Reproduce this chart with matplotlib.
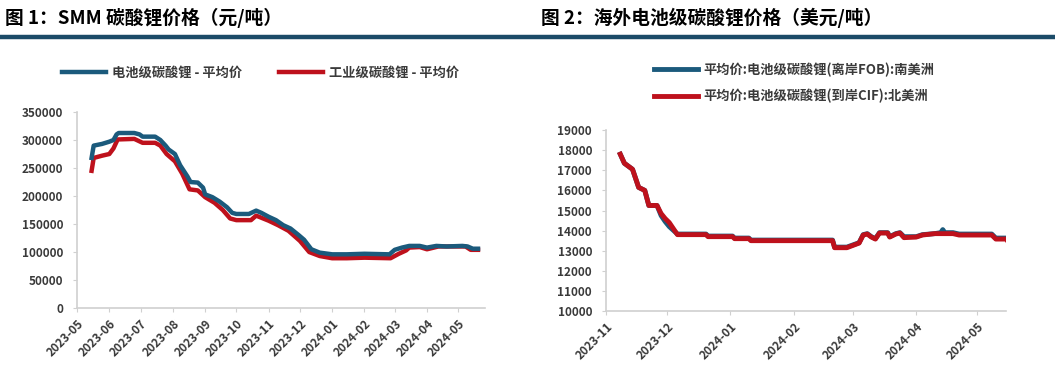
import matplotlib
matplotlib.use('Agg')
import matplotlib.pyplot as plt
import matplotlib.dates as mdates
from matplotlib.lines import Line2D
import numpy as np
import pandas as pd

plt.rcParams['font.family'] = ['Noto Sans CJK SC', 'DejaVu Sans']

# ---- chart 1: SMM lithium carbonate (CNY/t) ----
batt_dates = ["2023-05-15", "2023-05-17", "2023-05-25", "2023-06-01", "2023-06-05", "2023-06-08",
              "2023-06-10", "2023-06-25", "2023-06-30", "2023-07-03", "2023-07-15", "2023-07-20",
              "2023-07-25", "2023-07-28", "2023-08-03", "2023-08-08", "2023-08-15", "2023-08-18",
              "2023-08-25", "2023-08-30", "2023-09-01", "2023-09-08", "2023-09-15", "2023-09-22",
              "2023-09-27", "2023-10-01", "2023-10-13", "2023-10-20", "2023-10-25", "2023-11-01",
              "2023-11-08", "2023-11-15", "2023-11-22", "2023-11-30", "2023-12-05", "2023-12-12",
              "2023-12-20", "2024-01-01", "2024-01-15", "2024-02-01", "2024-02-25", "2024-03-01",
              "2024-03-08", "2024-03-15", "2024-03-25", "2024-04-01", "2024-04-10", "2024-04-20",
              "2024-05-05", "2024-05-10", "2024-05-15", "2024-05-20"]
batt_vals = [268000, 290000, 293000, 297000, 300000, 310000,
             312500, 312500, 310000, 306000, 306000, 300000,
             290000, 283000, 275000, 255000, 235000, 225000,
             224000, 215000, 203000, 198000, 190000, 180000,
             170000, 168000, 168000, 174000, 170000, 163000,
             157000, 148000, 142000, 130000, 122000, 105000,
             99000, 96000, 96000, 97000, 96000, 104000,
             108000, 111000, 111000, 108000, 111000, 110000,
             111000, 110000, 106000, 106000]

ind_dates = ["2023-05-15", "2023-05-17", "2023-05-25", "2023-06-01", "2023-06-05", "2023-06-09",
             "2023-06-25", "2023-07-03", "2023-07-15", "2023-07-20", "2023-07-26", "2023-08-03",
             "2023-08-10", "2023-08-17", "2023-08-25", "2023-09-01", "2023-09-10", "2023-09-18",
             "2023-09-25", "2023-10-01", "2023-10-15", "2023-10-20", "2023-11-01", "2023-11-10",
             "2023-11-20", "2023-12-01", "2023-12-10", "2023-12-20", "2024-01-01", "2024-01-15",
             "2024-02-01", "2024-02-26", "2024-03-05", "2024-03-12", "2024-03-15", "2024-03-25",
             "2024-04-01", "2024-04-12", "2024-05-08", "2024-05-13", "2024-05-20"]
ind_vals = [245000, 268000, 272000, 275000, 285000, 301000,
            302000, 295000, 295000, 290000, 275000, 262000,
            240000, 212000, 210000, 198000, 188000, 175000,
            160000, 157000, 157000, 165000, 156000, 148000,
            138000, 120000, 100000, 93000, 89000, 89000,
            90000, 89000, 97000, 103000, 108000, 109000,
            105000, 110000, 110000, 104000, 104000]

# ---- chart 2: overseas battery-grade lithium carbonate (USD/t) ----
fob_dates = ["2023-11-08", "2023-11-10", "2023-11-12", "2023-11-14", "2023-11-17", "2023-11-20",
             "2023-11-22", "2023-11-26", "2023-11-28", "2023-11-30", "2023-12-02", "2023-12-06",
             "2023-12-20", "2023-12-21", "2024-01-02", "2024-01-03", "2024-01-10", "2024-01-11",
             "2024-02-20", "2024-02-21", "2024-02-27", "2024-03-04", "2024-03-06", "2024-03-08",
             "2024-03-10", "2024-03-12", "2024-03-14", "2024-03-18", "2024-03-19", "2024-03-22",
             "2024-03-24", "2024-03-26", "2024-04-01", "2024-04-04", "2024-04-10", "2024-04-13",
             "2024-04-14", "2024-04-15", "2024-04-19", "2024-04-22", "2024-05-08", "2024-05-10",
             "2024-05-16"]
fob_vals = [17800, 17350, 17200, 17050, 16150, 16000,
            15250, 15250, 14750, 14450, 14200, 13830,
            13830, 13730, 13730, 13630, 13630, 13530,
            13530, 13180, 13180, 13400, 13800, 13850,
            13700, 13600, 13900, 13900, 13700, 13850,
            13900, 13700, 13700, 13800, 13850, 13900,
            14050, 13900, 13900, 13830, 13830, 13630,
            13630]

cif_dates = ["2023-11-08", "2023-11-10", "2023-11-12", "2023-11-14", "2023-11-17", "2023-11-20",
             "2023-11-22", "2023-11-26", "2023-11-28", "2023-11-30", "2023-12-02", "2023-12-06",
             "2023-12-20", "2023-12-21", "2024-01-02", "2024-01-03", "2024-01-10", "2024-01-11",
             "2024-02-20", "2024-02-21", "2024-02-27", "2024-03-04", "2024-03-06", "2024-03-08",
             "2024-03-10", "2024-03-12", "2024-03-14", "2024-03-18", "2024-03-19", "2024-03-22",
             "2024-03-24", "2024-03-26", "2024-04-01", "2024-04-04", "2024-04-10", "2024-04-19",
             "2024-04-22", "2024-05-08", "2024-05-10", "2024-05-15", "2024-05-16"]
cif_vals = [17800, 17350, 17200, 17050, 16150, 16000,
            15250, 15250, 14850, 14600, 14400, 13800,
            13800, 13700, 13700, 13600, 13600, 13500,
            13500, 13150, 13150, 13380, 13780, 13830,
            13680, 13580, 13880, 13880, 13680, 13830,
            13880, 13650, 13680, 13780, 13850, 13850,
            13780, 13780, 13580, 13580, 13450]

blue = '#1B5A7C'
red = '#BE111C'
txt = '#3A3A3A'

fig = plt.figure(figsize=(10.55, 3.69), dpi=100)

# header titles and rule
fig.text(0.005, 0.952, '图 1：SMM 碳酸锂价格（元/吨）', fontsize=13.5, fontweight='bold',
         color='black', va='center', ha='left')
fig.text(0.513, 0.952, '图 2：海外电池级碳酸锂价格（美元/吨）', fontsize=13.5, fontweight='bold',
         color='black', va='center', ha='left')
fig.add_artist(Line2D([0, 1], [0.899, 0.899], transform=fig.transFigure,
                      color='#1B4B68', linewidth=3.2))


def style_axes(ax):
    for s in ['top', 'right']:
        ax.spines[s].set_visible(False)
    for s in ['left', 'bottom']:
        ax.spines[s].set_color('#D0D0D0')
        ax.spines[s].set_linewidth(1.2)
    ax.tick_params(axis='both', colors='#D0D0D0', labelcolor=txt, labelsize=8.5, length=3)
    ax.tick_params(axis='y', pad=7)
    ax.xaxis.set_major_locator(mdates.MonthLocator())
    ax.xaxis.set_major_formatter(mdates.DateFormatter('%Y-%m'))
    for lab in ax.get_xticklabels() + ax.get_yticklabels():
        lab.set_fontweight('bold')
    for lab in ax.get_xticklabels():
        lab.set_rotation(45)
        lab.set_ha('right')
        lab.set_rotation_mode('anchor')


# left chart
ax1 = fig.add_axes([0.073, 0.165, 0.387, 0.5315])
ax1.plot(pd.to_datetime(batt_dates), batt_vals, color=blue, linewidth=3.2,
         label='电池级碳酸锂 - 平均价', zorder=3)
ax1.plot(pd.to_datetime(ind_dates), ind_vals, color=red, linewidth=3.2,
         label='工业级碳酸锂 - 平均价', zorder=2)
ax1.set_ylim(0, 350000)
ax1.set_yticks(np.arange(0, 350001, 50000))
ax1.set_xlim(pd.Timestamp('2023-05-01'), pd.Timestamp('2024-05-27'))
style_axes(ax1)
leg1 = ax1.legend(loc='center', bbox_to_anchor=(0.45, 1.2), ncol=2, frameon=False,
                  prop={'size': 9.5, 'weight': 'bold'}, labelcolor=txt, handlelength=3.3,
                  columnspacing=2.8, handletextpad=0.5)

# right chart
ax2 = fig.add_axes([0.5744, 0.157, 0.3792, 0.4905])
ax2.plot(pd.to_datetime(fob_dates), fob_vals, color=blue, linewidth=3.5,
         label='平均价:电池级碳酸锂(离岸FOB):南美洲', zorder=2)
ax2.plot(pd.to_datetime(cif_dates), cif_vals, color=red, linewidth=3.5,
         label='平均价:电池级碳酸锂(到岸CIF):北美洲', zorder=3)
ax2.set_ylim(10000, 19000)
ax2.set_yticks(np.arange(10000, 19001, 1000))
ax2.set_xlim(pd.Timestamp('2023-11-01'), pd.Timestamp('2024-05-15'))
style_axes(ax2)
leg2 = ax2.legend(loc='center', bbox_to_anchor=(0.47, 1.26), ncol=1, frameon=False,
                  prop={'size': 9.5, 'weight': 'bold'}, labelcolor=txt, handlelength=3.3,
                  labelspacing=0.9, handletextpad=0.4)

fig.savefig('out.png', dpi=100)
